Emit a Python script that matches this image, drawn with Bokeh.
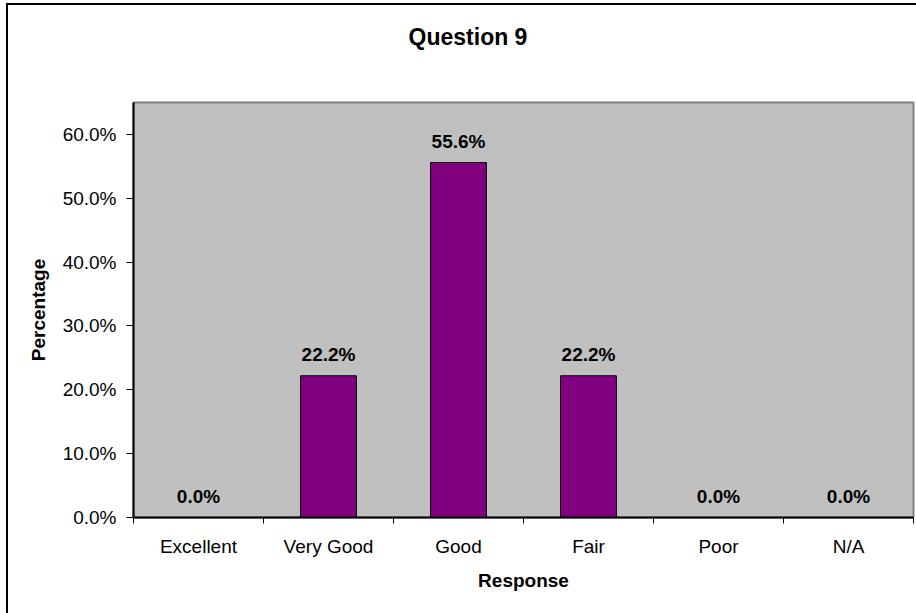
from bokeh.plotting import figure
from bokeh.layouts import column
from bokeh.models import (ColumnDataSource, FixedTicker, NumeralTickFormatter, Range1d,
                          LabelSet, Div)
from bokeh.core.properties import value
from bokeh.embed import file_html
from bokeh.resources import INLINE

categories = ["Excellent", "Very Good", "Good", "Fair", "Poor", "N/A"]
values = [0.0, 0.222, 0.556, 0.222, 0.0, 0.0]
value_labels = ["0.0%", "22.2%", "55.6%", "22.2%", "0.0%", "0.0%"]
y_ticks = [0.0, 0.1, 0.2, 0.3, 0.4, 0.5, 0.6]
title_text = "Question 9"
x_title = "Response"
y_title = "Percentage"

FONT = "Liberation Sans"
idx = list(range(len(categories)))
source = ColumnDataSource(dict(x=idx, top=values, label=value_labels))

title = Div(text=title_text, width=908, height=55, margin=0,
            styles={"font-family": FONT, "font-weight": "bold", "font-size": "23px",
                    "line-height": "26px", "color": "black", "text-align": "center",
                    "padding-top": "19px", "padding-left": "12px",
                    "box-sizing": "border-box", "background": "white"})

p = figure(width=908, height=553, output_backend="svg", toolbar_location=None,
           x_range=Range1d(-0.5, len(categories) - 0.5), y_range=Range1d(0, 0.65),
           min_border_left=125, min_border_right=3, min_border_top=42, min_border_bottom=96,
           margin=0)
p.background_fill_color = "#C0C0C0"
p.border_fill_color = "white"
p.outline_line_color = "#808080"
p.outline_line_width = 2
p.grid.visible = False

p.vbar(x="x", top="top", width=0.43, source=source, fill_color="#800080",
       line_color="black", line_width=1)

labels = LabelSet(x="x", y="top", text="label", source=source, y_offset=21,
                  text_align="center", text_baseline="middle",
                  text_font=value(FONT), text_font_style="bold", text_font_size="19px",
                  text_color="black")
p.add_layout(labels)

# x axis
p.xaxis.ticker = FixedTicker(ticks=idx, minor_ticks=[i - 0.5 for i in range(len(categories) + 1)])
p.xaxis.major_label_overrides = {i: c for i, c in zip(idx, categories)}
p.xaxis.major_tick_out = 0
p.xaxis.major_tick_in = 0
p.xaxis.minor_tick_out = 6
p.xaxis.minor_tick_in = 0
p.xaxis.minor_tick_line_color = "black"
p.xaxis.axis_line_color = "black"
p.xaxis.axis_line_width = 2
p.xaxis.major_label_standoff = 12
p.xaxis.major_label_text_font = FONT
p.xaxis.major_label_text_font_size = "19px"
p.xaxis.major_label_text_color = "black"
p.xaxis.axis_label = x_title
p.xaxis.axis_label_text_font = FONT
p.xaxis.axis_label_text_font_style = "bold"
p.xaxis.axis_label_text_font_size = "19px"
p.xaxis.axis_label_text_color = "black"
p.xaxis.axis_label_standoff = 10

# y axis
p.yaxis.ticker = FixedTicker(ticks=y_ticks, minor_ticks=[])
p.yaxis.formatter = NumeralTickFormatter(format="0.0%")
p.yaxis.major_tick_out = 7
p.yaxis.major_tick_in = 0
p.yaxis.major_tick_line_color = "black"
p.yaxis.axis_line_color = "black"
p.yaxis.axis_line_width = 2
p.yaxis.major_label_standoff = 10
p.yaxis.major_label_text_font = FONT
p.yaxis.major_label_text_font_size = "19px"
p.yaxis.major_label_text_color = "black"
p.yaxis.axis_label = y_title
p.yaxis.axis_label_text_font = FONT
p.yaxis.axis_label_text_font_style = "bold"
p.yaxis.axis_label_text_font_size = "19px"
p.yaxis.axis_label_text_color = "black"
p.yaxis.axis_label_standoff = 11

layout = column(title, p, spacing=0,
                styles={"border-left": "2px solid black", "border-top": "2px solid black",
                        "margin-left": "6px", "margin-top": "3px"})

open("out.html", "w").write(file_html(layout, INLINE))
